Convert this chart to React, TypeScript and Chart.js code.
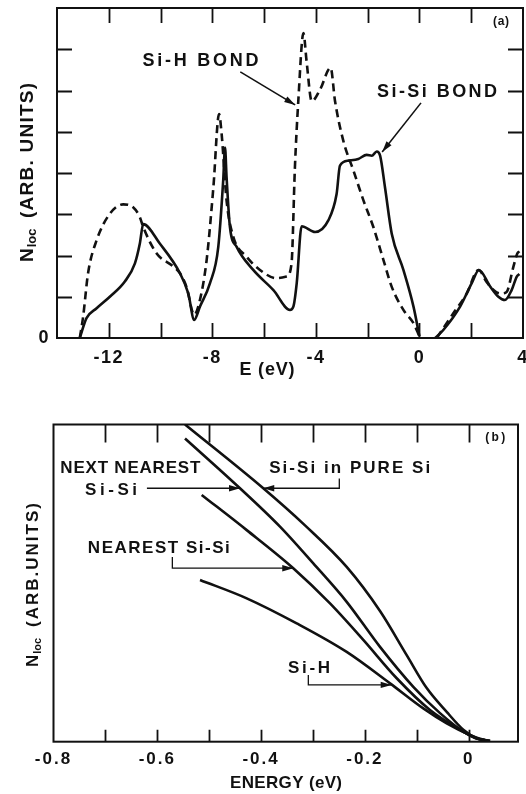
import React, { useEffect, useRef } from 'react';
import { Chart, registerables } from 'chart.js';

Chart.register(...registerables);

// ---------------- Panel (a): local density of states vs E (eV) ----------------
const siSiE = [-13.12, -12.86, -12.47, -11.96, -11.38, -10.99, -10.8, -10.67, -10.03, -9.25, -8.93, -8.7, -8.48, -8.09, -7.77, -7.58, -7.51, -7.45, -7.32, -7.06, -6.42, -5.64, -5.0, -4.87, -4.74, -4.55, -4.03, -3.52, -3.2, -3.07, -2.74, -2.36, -2.04, -1.84, -1.65, -1.52, -1.33, -1.07, -0.62, -0.23, 0];
const siSiN = [0, 0.48, 0.72, 1.0, 1.37, 1.81, 2.29, 2.76, 2.29, 1.57, 1.08, 0.44, 0.76, 1.33, 2.21, 3.82, 4.62, 3.9, 2.69, 2.21, 1.65, 1.16, 0.68, 0.76, 1.33, 2.71, 2.57, 2.85, 3.49, 4.18, 4.3, 4.34, 4.44, 4.42, 4.52, 4.42, 3.65, 2.53, 1.65, 0.76, 0.04];
const siSiCondE = [0.61, 0.93, 1.57, 2.02, 2.3, 2.73, 3.05, 3.3, 3.56, 3.76, 3.86];
const siSiCondN = [0, 0.2, 0.76, 1.33, 1.65, 1.25, 1.0, 0.92, 1.16, 1.49, 1.55];

const siHE = [-13.12, -12.99, -12.8, -12.47, -11.96, -11.44, -11.06, -10.8, -10.67, -10.15, -9.5, -9.25, -9.0, -8.7, -8.48, -8.22, -7.96, -7.74, -7.64, -7.45, -7.19, -6.68, -6.16, -5.52, -5.13, -4.94, -4.81, -4.68, -4.48, -4.36, -4.16, -3.84, -3.43, -3.26, -2.94, -2.55, -2.16, -1.78, -1.39, -1.07, -0.62, -0.23, 0];
const siHN = [0, 0.52, 1.57, 2.37, 3.01, 3.24, 3.17, 2.93, 2.69, 2.05, 1.73, 1.57, 1.24, 0.56, 0.92, 1.89, 3.65, 5.43, 4.94, 3.33, 2.45, 1.97, 1.65, 1.45, 1.49, 1.81, 4.14, 5.74, 7.39, 6.71, 5.74, 6.02, 6.55, 5.74, 4.78, 4.06, 3.33, 2.69, 1.89, 1.24, 0.68, 0.36, 0.04];
const siHCondE = [0.67, 1.31, 1.83, 2.28, 2.6, 2.95, 3.18, 3.37, 3.63, 3.78, 3.86];
const siHCondN = [0, 0.6, 1.08, 1.65, 1.35, 1.12, 1.08, 1.12, 1.73, 2.05, 2.1];

const aXTicks = [-12, -10, -8, -6, -4, -2, 0, 2, 4];
const aXLabelValues = [-12, -8, -4, 0, 4];
const aXLabels = ['-12', '-8', '-4', '0', '4'];
const aYTicks = [0, 1, 2, 3, 4, 5, 6, 7];
const aYLabels = ['0'];

// ---------------- Panel (b): N_loc near the band edge vs ENERGY (eV) ----------------
const pureSiE = [-0.5466, -0.3958, -0.3154, -0.2351, -0.1709, -0.1195, -0.0809, -0.0424, -0.0104, 0.0154, 0.041];
const pureSiN = [100, 79.9, 68.2, 55.1, 41.2, 27.3, 16.9, 9.4, 3.8, 1.1, 0.2];
const nextNearestE = [-0.5466, -0.4407, -0.3636, -0.2994, -0.2351, -0.1709, -0.1067, -0.0553, -0.0104, 0.0154, 0.041];
const nextNearestN = [95.6, 79.9, 67.8, 56.2, 44.1, 29.9, 17.3, 9.0, 3.2, 1.0, 0.2];
const nearestE = [-0.5145, -0.4277, -0.338, -0.2672, -0.2031, -0.1387, -0.0746, -0.0104, 0.0154, 0.041];
const nearestN = [77.8, 66.7, 54.7, 43.6, 32.1, 20.0, 10.0, 3.2, 1.0, 0.2];
const siHBandE = [-0.5177, -0.4277, -0.3314, -0.2351, -0.1516, -0.0875, -0.0424, 0.0025, 0.02, 0.041];
const siHBandN = [51.0, 45.2, 37.3, 28.3, 18.4, 10.5, 5.8, 2.1, 1.0, 0.2];

const bXTicks = [-0.8, -0.7, -0.6, -0.5, -0.4, -0.3, -0.2, -0.1, 0];
const bXLabelValues = [-0.8, -0.6, -0.4, -0.2, 0];
const bXLabels = ['-0.8', '-0.6', '-0.4', '-0.2', '0'];

// ---------------- helpers ----------------
const FONT = "'Liberation Sans', Arial, sans-serif";
const INK = '#111';

const pts = (xs: number[], ys: number[]) => xs.map((x, i) => ({ x, y: ys[i] }));

function labelFor(values: number[], labels: string[]) {
  return (v: any) => {
    const i = values.findIndex((lv) => Math.abs(lv - Number(v)) < 1e-6);
    return i >= 0 ? labels[i] : '';
  };
}

function fitText(ctx: CanvasRenderingContext2D, text: string, x: number, y: number, font: string, width: number) {
  ctx.font = font;
  (ctx as any).letterSpacing = '0px';
  const w0 = ctx.measureText(text).width;
  const n = text.length;
  const sp = n > 1 ? (width - w0) / (n - 1) : 0;
  (ctx as any).letterSpacing = sp.toFixed(2) + 'px';
  ctx.textAlign = 'left';
  ctx.fillText(text, x, y);
  (ctx as any).letterSpacing = '0px';
}

function arrowPath(ctx: CanvasRenderingContext2D, p: number[][], lw: number, headLen: number, headW: number) {
  ctx.lineWidth = lw;
  ctx.beginPath();
  ctx.moveTo(p[0][0], p[0][1]);
  for (let i = 1; i < p.length; i++) ctx.lineTo(p[i][0], p[i][1]);
  ctx.stroke();
  const a = p[p.length - 2];
  const b = p[p.length - 1];
  const ang = Math.atan2(b[1] - a[1], b[0] - a[0]);
  ctx.beginPath();
  ctx.moveTo(b[0], b[1]);
  ctx.lineTo(b[0] - headLen * Math.cos(ang) + headW * Math.sin(ang), b[1] - headLen * Math.sin(ang) - headW * Math.cos(ang));
  ctx.lineTo(b[0] - headLen * Math.cos(ang) - headW * Math.sin(ang), b[1] - headLen * Math.sin(ang) + headW * Math.cos(ang));
  ctx.closePath();
  ctx.fill();
}

type Note = { t: string; e: number; v: number; size: number; w: number };
type Arrow = { p: number[][]; lw: number };
type Decor = {
  xTicks: number[];
  yTicks: number[];
  topLen: number;
  botLen: number;
  sideLen: number;
  tickSpacing: number;
  notes: Note[];
  arrows: Arrow[];
  xTitle: { t: string; x: number; y: number; size: number; w: number };
  yTitle: { x: number; y: number; size: number; sub: string; rest: string; restOffset: number; restW: number };
};

function decorPlugin(d: Decor) {
  return {
    id: 'decor',
    beforeDraw(chart: any) {
      (chart.ctx as any).letterSpacing = d.tickSpacing + 'px';
    },
    afterDraw(chart: any) {
      const ctx: CanvasRenderingContext2D = chart.ctx;
      (ctx as any).letterSpacing = '0px';
      const { left, right, top, bottom } = chart.chartArea;
      const xs = chart.scales.x;
      const ys = chart.scales.y;
      ctx.save();
      ctx.strokeStyle = INK;
      ctx.fillStyle = INK;
      ctx.lineWidth = 2;
      ctx.strokeRect(left, top, right - left, bottom - top);
      ctx.beginPath();
      d.xTicks.forEach((v) => {
        const px = Math.round(xs.getPixelForValue(v)) + 0.5;
        if (px < left + 2 || px > right - 2) return;
        ctx.moveTo(px, top);
        ctx.lineTo(px, top + d.topLen);
        ctx.moveTo(px, bottom);
        ctx.lineTo(px, bottom - d.botLen);
      });
      d.yTicks.forEach((v) => {
        const py = Math.round(ys.getPixelForValue(v)) + 0.5;
        if (py > bottom - 2 || py < top + 2) return;
        ctx.moveTo(left, py);
        ctx.lineTo(left + d.sideLen, py);
        ctx.moveTo(right, py);
        ctx.lineTo(right - d.sideLen, py);
      });
      ctx.lineWidth = 1.8;
      ctx.stroke();

      // annotations
      ctx.textBaseline = 'middle';
      d.notes.forEach((n) => {
        const cx = xs.getPixelForValue(n.e);
        const cy = ys.getPixelForValue(n.v);
        fitText(ctx, n.t, cx - n.w / 2, cy, `bold ${n.size}px ${FONT}`, n.w);
      });
      d.arrows.forEach((a) => {
        const p = a.p.map(([e, v]) => [xs.getPixelForValue(e), ys.getPixelForValue(v)]);
        arrowPath(ctx, p, a.lw, 11, 3.2);
      });

      // x title
      fitText(ctx, d.xTitle.t, d.xTitle.x - d.xTitle.w / 2, d.xTitle.y, `bold ${d.xTitle.size}px ${FONT}`, d.xTitle.w);

      // y title (rotated, with subscript)
      const yt = d.yTitle;
      ctx.save();
      ctx.translate(yt.x, yt.y);
      ctx.rotate(-Math.PI / 2);
      ctx.textBaseline = 'alphabetic';
      ctx.textAlign = 'left';
      ctx.font = `bold ${yt.size}px ${FONT}`;
      ctx.fillText('N', 0, 0);
      const nw = ctx.measureText('N').width;
      ctx.font = `bold ${Math.round(yt.size * 0.66)}px ${FONT}`;
      ctx.fillText(yt.sub, nw + 1, 3);
      fitText(ctx, yt.rest, yt.restOffset, 0, `bold ${yt.size}px ${FONT}`, yt.restW);
      ctx.restore();

      ctx.restore();
    },
  };
}

const solid = (data: any[]) => ({
  data,
  borderColor: INK,
  borderWidth: 2.6,
  pointRadius: 0,
  fill: false,
  cubicInterpolationMode: 'monotone' as const,
});
const dashed = (data: any[]) => ({ ...solid(data), borderDash: [8, 5] });

function baseOptions(opts: any) {
  return {
    responsive: false,
    animation: false,
    devicePixelRatio: 1,
    layout: { padding: opts.padding },
    plugins: { legend: { display: false }, tooltip: { enabled: false }, title: { display: false } },
    scales: {
      x: {
        type: 'linear',
        min: opts.xMin,
        max: opts.xMax,
        grid: { display: false, drawTicks: false },
        border: { display: false },
        afterBuildTicks: (s: any) => {
          s.ticks = opts.xTicks.map((v: number) => ({ value: v }));
        },
        afterFit: (s: any) => {
          s.height = opts.xHeight;
          s.paddingLeft = 0;
          s.paddingRight = 0;
        },
        ticks: {
          autoSkip: false,
          maxRotation: 0,
          minRotation: 0,
          padding: opts.xPad,
          color: INK,
          font: { family: FONT, size: opts.tickSize, weight: 'bold' },
          callback: labelFor(opts.xLabelValues, opts.xLabels),
        },
      },
      y: {
        type: 'linear',
        min: opts.yMin,
        max: opts.yMax,
        grid: { display: false, drawTicks: false },
        border: { display: false },
        afterBuildTicks: (s: any) => {
          s.ticks = opts.yTicks.map((v: number) => ({ value: v }));
        },
        afterFit: (s: any) => {
          s.width = opts.yWidth;
          s.paddingTop = 0;
          s.paddingBottom = 0;
        },
        ticks: {
          display: opts.yLabels.length > 0,
          padding: 7,
          color: INK,
          font: { family: FONT, size: opts.tickSize, weight: 'bold' },
          callback: labelFor([0], opts.yLabels),
        },
      },
    },
  };
}

export default function App() {
  const refA = useRef<HTMLCanvasElement>(null);
  const refB = useRef<HTMLCanvasElement>(null);

  useEffect(() => {
    const chartA = new Chart(refA.current as HTMLCanvasElement, {
      type: 'line',
      data: {
        datasets: [
          solid(pts(siSiE, siSiN)),
          solid(pts(siSiCondE, siSiCondN)),
          dashed(pts(siHE, siHN)),
          dashed(pts(siHCondE, siHCondN)),
        ],
      },
      options: baseOptions({
        padding: { left: 0, top: 8, right: 3, bottom: 0 },
        xMin: -14, xMax: 4, yMin: 0, yMax: 8,
        xTicks: aXTicks, xLabelValues: aXLabelValues, xLabels: aXLabels,
        yTicks: aYTicks, yLabels: aYLabels,
        xHeight: 57, yWidth: 57, xPad: 9, tickSize: 18,
      }) as any,
      plugins: [
        decorPlugin({
          xTicks: aXTicks,
          yTicks: aYTicks,
          topLen: 15,
          botLen: 15,
          sideLen: 15,
          tickSpacing: 1.5,
          notes: [
            { t: 'Si-H BOND', e: -8.46, v: 6.72, size: 18, w: 116 },
            { t: 'Si-Si BOND', e: 0.68, v: 5.96, size: 18, w: 120 },
            { t: '(a)', e: 3.15, v: 7.66, size: 12, w: 16 },
          ],
          arrows: [
            { p: [[-6.92, 6.45], [-4.8, 5.65]], lw: 1.6 },
            { p: [[0.06, 5.7], [-1.44, 4.51]], lw: 1.6 },
          ],
          xTitle: { t: 'E (eV)', x: 267, y: 370, size: 18, w: 55 },
          yTitle: { x: 32.5, y: 262, size: 19, sub: 'loc', rest: '(ARB. UNITS)', restOffset: 44, restW: 135 },
        }),
      ],
    });

    const chartB = new Chart(refB.current as HTMLCanvasElement, {
      type: 'line',
      data: {
        datasets: [
          solid(pts(pureSiE, pureSiN)),
          solid(pts(nextNearestE, nextNearestN)),
          solid(pts(nearestE, nearestN)),
          solid(pts(siHBandE, siHBandN)),
        ],
      },
      options: baseOptions({
        padding: { left: 0, top: 29.5, right: 8, bottom: 0 },
        xMin: -0.8, xMax: 0.095, yMin: 0, yMax: 100,
        xTicks: bXTicks, xLabelValues: bXLabelValues, xLabels: bXLabels,
        yTicks: [], yLabels: [],
        xHeight: 52.3, yWidth: 53.5, xPad: 7, tickSize: 17,
      }) as any,
      plugins: [
        decorPlugin({
          xTicks: bXTicks,
          yTicks: [],
          topLen: 18,
          botLen: 12,
          sideLen: 0,
          tickSpacing: 2,
          notes: [
            { t: 'NEXT NEAREST', e: -0.652, v: 86.3, size: 17, w: 140 },
            { t: 'Si-Si', e: -0.689, v: 79.4, size: 17, w: 52 },
            { t: 'Si-Si in PURE Si', e: -0.2293, v: 86.3, size: 17, w: 161 },
            { t: 'NEAREST Si-Si', e: -0.597, v: 61.1, size: 17, w: 142 },
            { t: 'Si-H', e: -0.3075, v: 23.2, size: 17, w: 42 },
            { t: '(b)', e: 0.051, v: 96, size: 12, w: 20 },
          ],
          arrows: [
            { p: [[-0.62, 79.9], [-0.4407, 79.9]], lw: 1.3 },
            { p: [[-0.2493, 83.0], [-0.2493, 79.9], [-0.3958, 79.9]], lw: 1.3 },
            { p: [[-0.571, 58.2], [-0.571, 54.7], [-0.338, 54.7]], lw: 1.3 },
            { p: [[-0.309, 21.0], [-0.309, 17.9], [-0.1484, 17.9]], lw: 1.3 },
          ],
          xTitle: { t: 'ENERGY (eV)', x: 286, y: 388, size: 17, w: 112 },
          yTitle: { x: 38, y: 272, size: 17, sub: 'loc', rest: '(ARB.UNITS)', restOffset: 40, restW: 124 },
        }),
      ],
    });

    return () => {
      chartA.destroy();
      chartB.destroy();
    };
  }, []);

  return (
    <div style={{ position: 'fixed', left: 0, top: 0, width: 526, height: 794, background: '#fff' }}>
      <canvas ref={refA} width={526} height={395} style={{ position: 'absolute', left: 0, top: 0, width: 526, height: 395 }} />
      <canvas ref={refB} width={526} height={399} style={{ position: 'absolute', left: 0, top: 395, width: 526, height: 399 }} />
    </div>
  );
}
